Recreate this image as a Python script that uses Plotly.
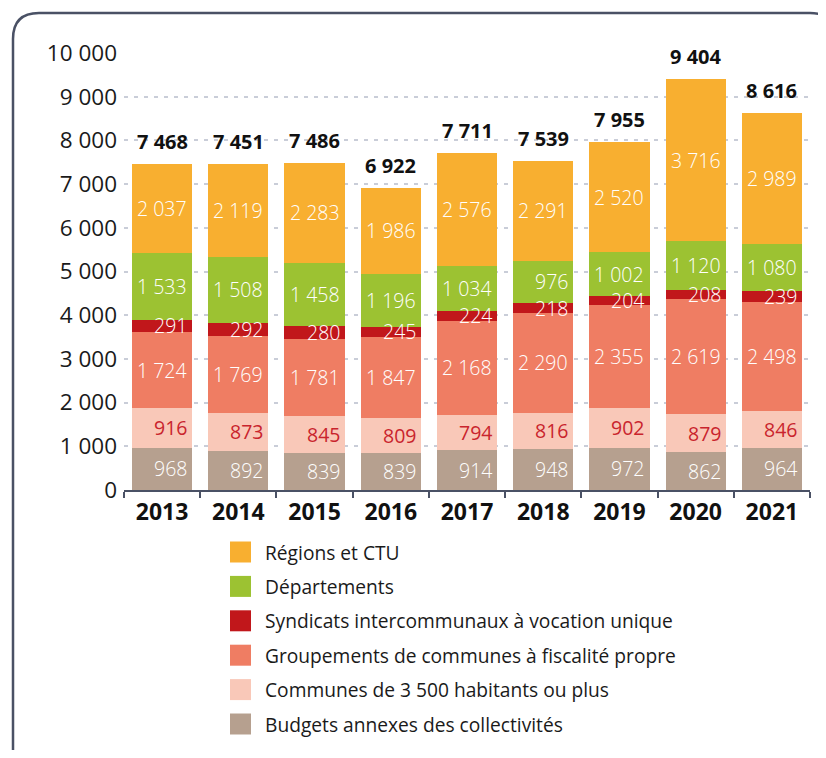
import plotly.graph_objects as go

years = ["2013", "2014", "2015", "2016", "2017", "2018", "2019", "2020", "2021"]
budgets = [968, 892, 839, 839, 914, 948, 972, 862, 964]
communes = [916, 873, 845, 809, 794, 816, 902, 879, 846]
groupements = [1724, 1769, 1781, 1847, 2168, 2290, 2355, 2619, 2498]
syndicats = [291, 292, 280, 245, 224, 218, 204, 208, 239]
departements = [1533, 1508, 1458, 1196, 1034, 976, 1002, 1120, 1080]
regions = [2037, 2119, 2283, 1986, 2576, 2291, 2520, 3716, 2989]
totals = [7468, 7451, 7486, 6922, 7711, 7539, 7955, 9404, 8616]
y_ticks = [0, 1000, 2000, 3000, 4000, 5000, 6000, 7000, 8000, 9000, 10000]

series = [
    ("Budgets annexes des collectivités", budgets, "#B6A08F", "white"),
    ("Communes de 3 500 habitants ou plus", communes, "#F9C8B8", "#C9242D"),
    ("Groupements de communes à fiscalité propre", groupements, "#EF7D63", "white"),
    ("Syndicats intercommunaux à vocation unique", syndicats, "#C1171B", "white"),
    ("Départements", departements, "#9CC232", "white"),
    ("Régions et CTU", regions, "#F8AF30", "white"),
]

FONT = "Open Sans"
OFF = 8  # page body margin
W, H = 818, 742
# plot area in screen pixels: x 124..810, y 53..490
ML, MR, MT, MB = 124 - OFF, W - (810 - OFF), 53 - OFF, H - (490 - OFF)
PW = W - ML - MR
PH = H - MT - MB


def px(x):
    return (x - OFF - ML) / PW


def py(y):
    return (H - MB - (y - OFF)) / PH


fig = go.Figure()
annotations = []
base = [0] * len(years)
for name, vals, color, tcol in series:
    fig.add_trace(go.Bar(
        x=years, y=vals, name=name, marker=dict(color=color, line=dict(width=0)),
        showlegend=False, hoverinfo="name+y",
    ))
    for i, v in enumerate(vals):
        annotations.append(dict(
            x=i, y=base[i] + v / 2, xref="x", yref="y",
            text=f"{v:,}".replace(",", " "), showarrow=False,
            xanchor="right", yanchor="middle", xshift=27,
            font=dict(family=FONT, size=19.5, color=tcol,
                      weight=400 if tcol != "white" else 300),
        ))
        base[i] += v

for i, t in enumerate(totals):
    annotations.append(dict(
        x=i, y=t, xref="x", yref="y",
        text=f"<b>{t:,}</b>".replace(",", " "), showarrow=False,
        xanchor="center", yanchor="bottom", yshift=7,
        font=dict(family=FONT, size=20, color="#111111"),
    ))

shapes = []
leg_top = 552
leg_step = 34.4
for k, (name, vals, color, tcol) in enumerate(reversed(series)):
    cy = leg_top + k * leg_step
    shapes.append(dict(type="rect", xref="paper", yref="paper",
                       x0=px(230), x1=px(251), y0=py(cy - 10.5), y1=py(cy + 10.5),
                       fillcolor=color, line=dict(width=0)))
    annotations.append(dict(x=px(263), y=py(cy), xref="paper", yref="paper",
                            text=name, showarrow=False, xanchor="left", yanchor="middle",
                            font=dict(family=FONT, size=19.2, color="#1a1a1a")))

# rounded frame: only the visible part (left, top, top-right corner, bottom-left corner)
x0, y0, r = 13, 13, 26
xr, yb = 836, 772
path = (f"M {px(x0)},{py(yb)} "
        f"L {px(x0)},{py(y0 + r)} Q {px(x0)},{py(y0)} {px(x0 + r)},{py(y0)} "
        f"L {px(xr - r)},{py(y0)} Q {px(xr)},{py(y0)} {px(xr)},{py(y0 + r)}")
shapes.append(dict(type="path", xref="paper", yref="paper", path=path,
                   line=dict(color="#4A5165", width=2.5), layer="below"))

fig.update_layout(
    barmode="stack", bargap=0.21,
    width=W, height=H,
    margin=dict(l=ML, r=MR, t=MT, b=MB, autoexpand=False),
    paper_bgcolor="white", plot_bgcolor="white",
    separators=", ",
    font=dict(family=FONT, color="#1a1a1a"),
    annotations=annotations, shapes=shapes,
    xaxis=dict(
        type="category", range=[-0.5, len(years) - 0.5],
        showline=True, linecolor="#4A5165", linewidth=2,
        ticks="outside", tickson="boundaries", ticklen=6, tickwidth=2, tickcolor="#4A5165",
        tickfont=dict(family=FONT, size=23, color="#111111", weight="bold"),
        showgrid=False, fixedrange=True, tickangle=0,
    ),
    yaxis=dict(
        range=[0, 10000], tickvals=y_ticks,
        ticktext=[f"{v:,}".replace(",", " ") for v in y_ticks],
        tickfont=dict(family=FONT, size=22.5, color="#1a1a1a"),
        showgrid=True, gridcolor="#C9CDD8", gridwidth=1.5, griddash="4px,6px",
        zeroline=False, showline=False, ticks="", ticklabelstandoff=6,
    ),
)

fig.write_html("out.html")
